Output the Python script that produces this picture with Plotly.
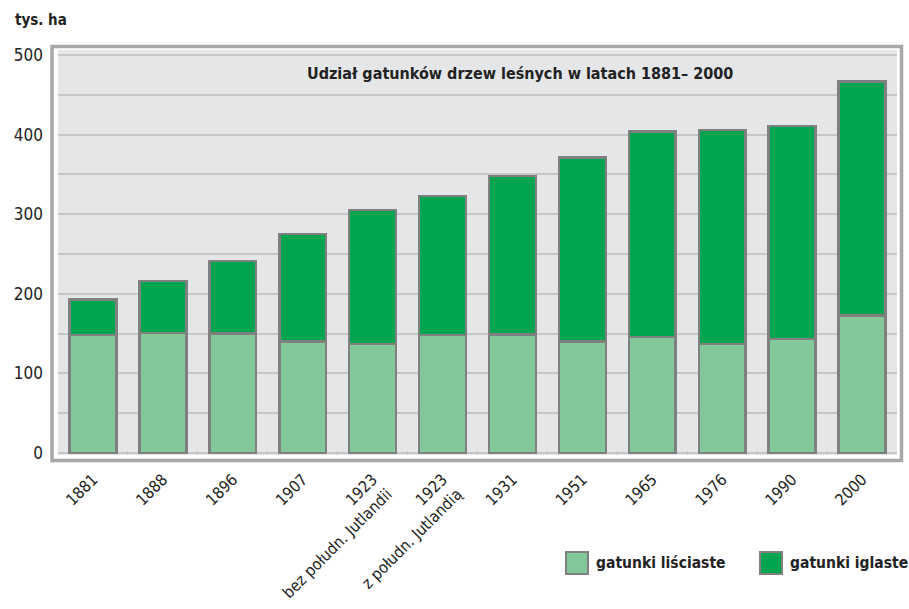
import plotly.graph_objects as go

# Forest area by tree type, Denmark (thousand ha)
categories = ["1881", "1888", "1896", "1907",
              "1923<br>bez połudn. Jutlandii", "1923<br>z połudn. Jutlandią",
              "1931", "1951", "1965", "1976", "1990", "2000"]
lisciaste = [148, 151, 150, 140, 137, 148, 149, 140, 146, 137, 143, 173]
iglaste = [45, 65, 91, 135, 168, 175, 199, 231, 258, 269, 268, 294]
series_names = ["gatunki liściaste", "gatunki iglaste"]
y_ticks = [0, 100, 200, 300, 400, 500]

FONT = "DejaVu Sans Condensed, Liberation Sans Narrow, sans-serif"
LIGHT = "#83c89b"
DARK = "#00a54f"
EDGE = "#808080"
FRAME = "#a7a8aa"
PLOT_BG = "#e5e6e8"
GRID = "#c6c7c9"
TEXT = "#222222"

W, H = 909, 609
L, R, T, B = 58, 897, 50, 455  # plot area in pixels


def px(x):
    return (x - L) / (R - L)


def py(y):
    return (B - y) / (B - T)


fig = go.Figure()
fig.add_trace(go.Bar(x=categories, y=lisciaste, name=series_names[0],
                     marker=dict(color=LIGHT, line=dict(color=EDGE, width=2.5)),
                     showlegend=False))
fig.add_trace(go.Bar(x=categories, y=iglaste, name=series_names[1],
                     marker=dict(color=DARK, line=dict(color=EDGE, width=2.5)),
                     showlegend=False))

shapes = [
    # outer frame around the plotting area
    dict(type="rect", xref="paper", yref="paper",
         x0=px(52), x1=px(901.5), y0=py(460.5), y1=py(46.5),
         line=dict(color=FRAME, width=3.5), fillcolor="rgba(0,0,0,0)", layer="below"),
]

# legend swatches
legend_boxes = [(566, 588), (760, 782)]
legend_colors = [LIGHT, DARK]
annotations = []
for (x0, x1), col, name in zip(legend_boxes, legend_colors, series_names):
    shapes.append(dict(type="rect", xref="paper", yref="paper",
                       x0=px(x0), x1=px(x1), y0=py(574), y1=py(552),
                       line=dict(color=EDGE, width=2), fillcolor=col))
    annotations.append(dict(x=px(x1 + 6), y=py(563), xref="paper", yref="paper",
                            text=f"<b>{name}</b>", showarrow=False,
                            xanchor="left", yanchor="middle",
                            font=dict(family=FONT, size=15.5, color=TEXT)))

annotations.append(dict(x=px(520), y=py(73), xref="paper", yref="paper",
                        text="<b>Udział gatunków drzew leśnych w latach 1881– 2000</b>",
                        showarrow=False, xanchor="center", yanchor="middle",
                        font=dict(family=FONT, size=16, color=TEXT)))
annotations.append(dict(x=px(13), y=py(20), xref="paper", yref="paper",
                        text="<b>tys. ha</b>", showarrow=False,
                        xanchor="left", yanchor="middle",
                        font=dict(family=FONT, size=15, color=TEXT)))

fig.update_layout(
    width=W, height=H,
    margin=dict(l=L, r=W - R, t=T, b=H - B, pad=0, autoexpand=False),
    barmode="stack", bargap=0.33,
    paper_bgcolor="white", plot_bgcolor=PLOT_BG,
    font=dict(family=FONT, color=TEXT),
    shapes=shapes, annotations=annotations,
    showlegend=False,
)
fig.update_xaxes(
    type="category", range=[-0.5, len(categories) - 0.5], automargin=False,
    tickangle=-45, tickfont=dict(family=FONT, size=16, color=TEXT),
    ticklabelstandoff=11,
    ticks="inside", tickson="boundaries", ticklen=4, tickcolor="#bfc0c2", tickwidth=1,
    showgrid=False, showline=False, zeroline=False,
)
fig.update_yaxes(
    range=[-2.5, 506.3], tickvals=y_ticks, automargin=False,
    tickfont=dict(family=FONT, size=17, color=TEXT),
    ticklabelstandoff=14,
    showgrid=True, gridcolor=GRID, gridwidth=2,
    minor=dict(dtick=50, showgrid=True, gridcolor=GRID, gridwidth=2),
    zeroline=False, showline=False, ticks="",
)

fig.write_html("out.html")
